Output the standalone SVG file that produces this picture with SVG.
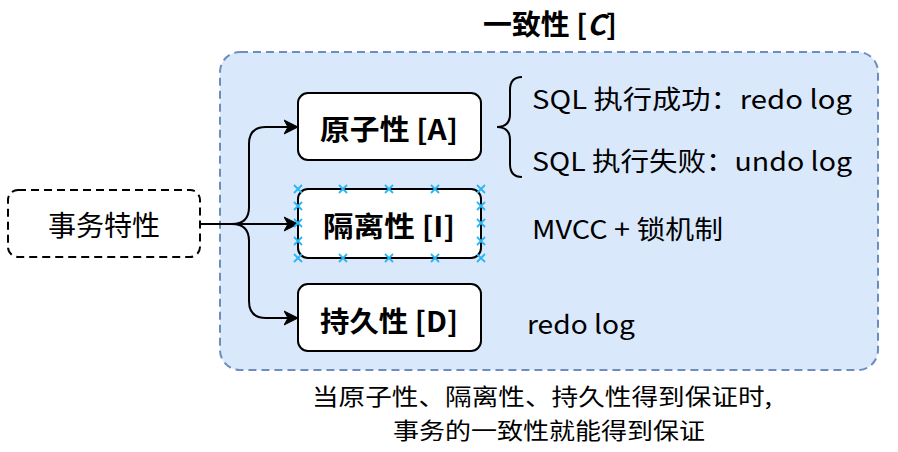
<svg xmlns="http://www.w3.org/2000/svg" width="898" height="452" viewBox="0 0 898 452">
<style>
text{font-family:"Noto Sans CJK SC","Noto Sans",sans-serif;fill:#000;dominant-baseline:central}
.node{fill:#fff;stroke:#000;stroke-width:2}
.lbl{font-size:28px;font-weight:bold;text-anchor:middle}
.side{font-size:26px}
.cap{font-size:23px}
.edge{fill:none;stroke:#000;stroke-width:2}
.mk{stroke:#29b6f2;stroke-width:1.8;fill:none}
</style>
<defs>
<marker id="arr" markerUnits="userSpaceOnUse" markerWidth="16" markerHeight="16" refX="14" refY="8" orient="auto" viewBox="0 0 16 16">
<path d="M0,1 L14,8 L0,15 L4,8 Z" fill="#000" stroke="#000" stroke-width="1"/>
</marker>
<path id="x" d="M-4,-4 L4,4 M-4,4 L4,-4"/>
</defs>
<g id="consistency">
<rect x="220" y="52" width="658" height="318" rx="20" fill="#dae8fc" stroke="#6c8ebf" stroke-width="2" stroke-dasharray="8 5"/>
<text class="lbl" x="550" y="23" textLength="134" lengthAdjust="spacingAndGlyphs">一致性 [<tspan font-style="italic">C</tspan>]</text>
</g>
<g id="transaction">
<rect x="8" y="190" width="192" height="67" rx="10" fill="#fff" stroke="#000" stroke-width="2" stroke-dasharray="8 5"/>
<text x="104" y="224" font-size="28" text-anchor="middle">事务特性</text>
</g>
<g id="connectors">
<path class="edge" d="M200,224 H232 Q249,224 249,207 V144 Q249,127 266,127 H298" marker-end="url(#arr)"/>
<path class="edge" d="M200,224 H298" marker-end="url(#arr)"/>
<path class="edge" d="M200,224 H232 Q249,224 249,241 V301 Q249,318 266,318 H298" marker-end="url(#arr)"/>
</g>
<g id="atomicity">
<rect class="node" x="298" y="93" width="183" height="67" rx="10"/>
<text class="lbl" x="389" y="128" textLength="138" lengthAdjust="spacingAndGlyphs">原子性 [A]</text>
</g>
<g id="isolation">
<rect class="node" x="298" y="189" width="183" height="69" rx="10"/>
<text class="lbl" x="389" y="225" textLength="132" lengthAdjust="spacingAndGlyphs">隔离性 [I]</text>
<g class="mk">
<use href="#x" x="298" y="189"/><use href="#x" x="343" y="189"/><use href="#x" x="389" y="189"/><use href="#x" x="435" y="189"/><use href="#x" x="481" y="189"/>
<use href="#x" x="298" y="258"/><use href="#x" x="343" y="258"/><use href="#x" x="389" y="258"/><use href="#x" x="435" y="258"/><use href="#x" x="481" y="258"/>
<use href="#x" x="298" y="206"/><use href="#x" x="298" y="223"/><use href="#x" x="298" y="241"/>
<use href="#x" x="481" y="206"/><use href="#x" x="481" y="223"/><use href="#x" x="481" y="241"/>
</g>
</g>
<g id="durability">
<rect class="node" x="298" y="284" width="183" height="67" rx="10"/>
<text class="lbl" x="389" y="320" textLength="138" lengthAdjust="spacingAndGlyphs">持久性 [D]</text>
</g>
<g id="brace">
<path class="edge" d="M522,77 Q510,77 510,90 V114 Q510,127 497,127 Q510,127 510,140 V164 Q510,177 522,177"/>
</g>
<g id="notes">
<text class="side" x="532" y="97" textLength="320" lengthAdjust="spacingAndGlyphs">SQL 执行成功：redo log</text>
<text class="side" x="532" y="159" textLength="320" lengthAdjust="spacingAndGlyphs">SQL 执行失败：undo log</text>
<text class="side" x="532" y="227" textLength="191" lengthAdjust="spacingAndGlyphs">MVCC + 锁机制</text>
<text class="side" x="527" y="322" textLength="108" lengthAdjust="spacingAndGlyphs">redo log</text>
</g>
<g id="caption">
<text class="cap" x="312" y="395" textLength="460" lengthAdjust="spacingAndGlyphs">当原子性、隔离性、持久性得到保证时,</text>
<text class="cap" x="393" y="429" textLength="312" lengthAdjust="spacingAndGlyphs">事务的一致性就能得到保证</text>
</g>
</svg>
